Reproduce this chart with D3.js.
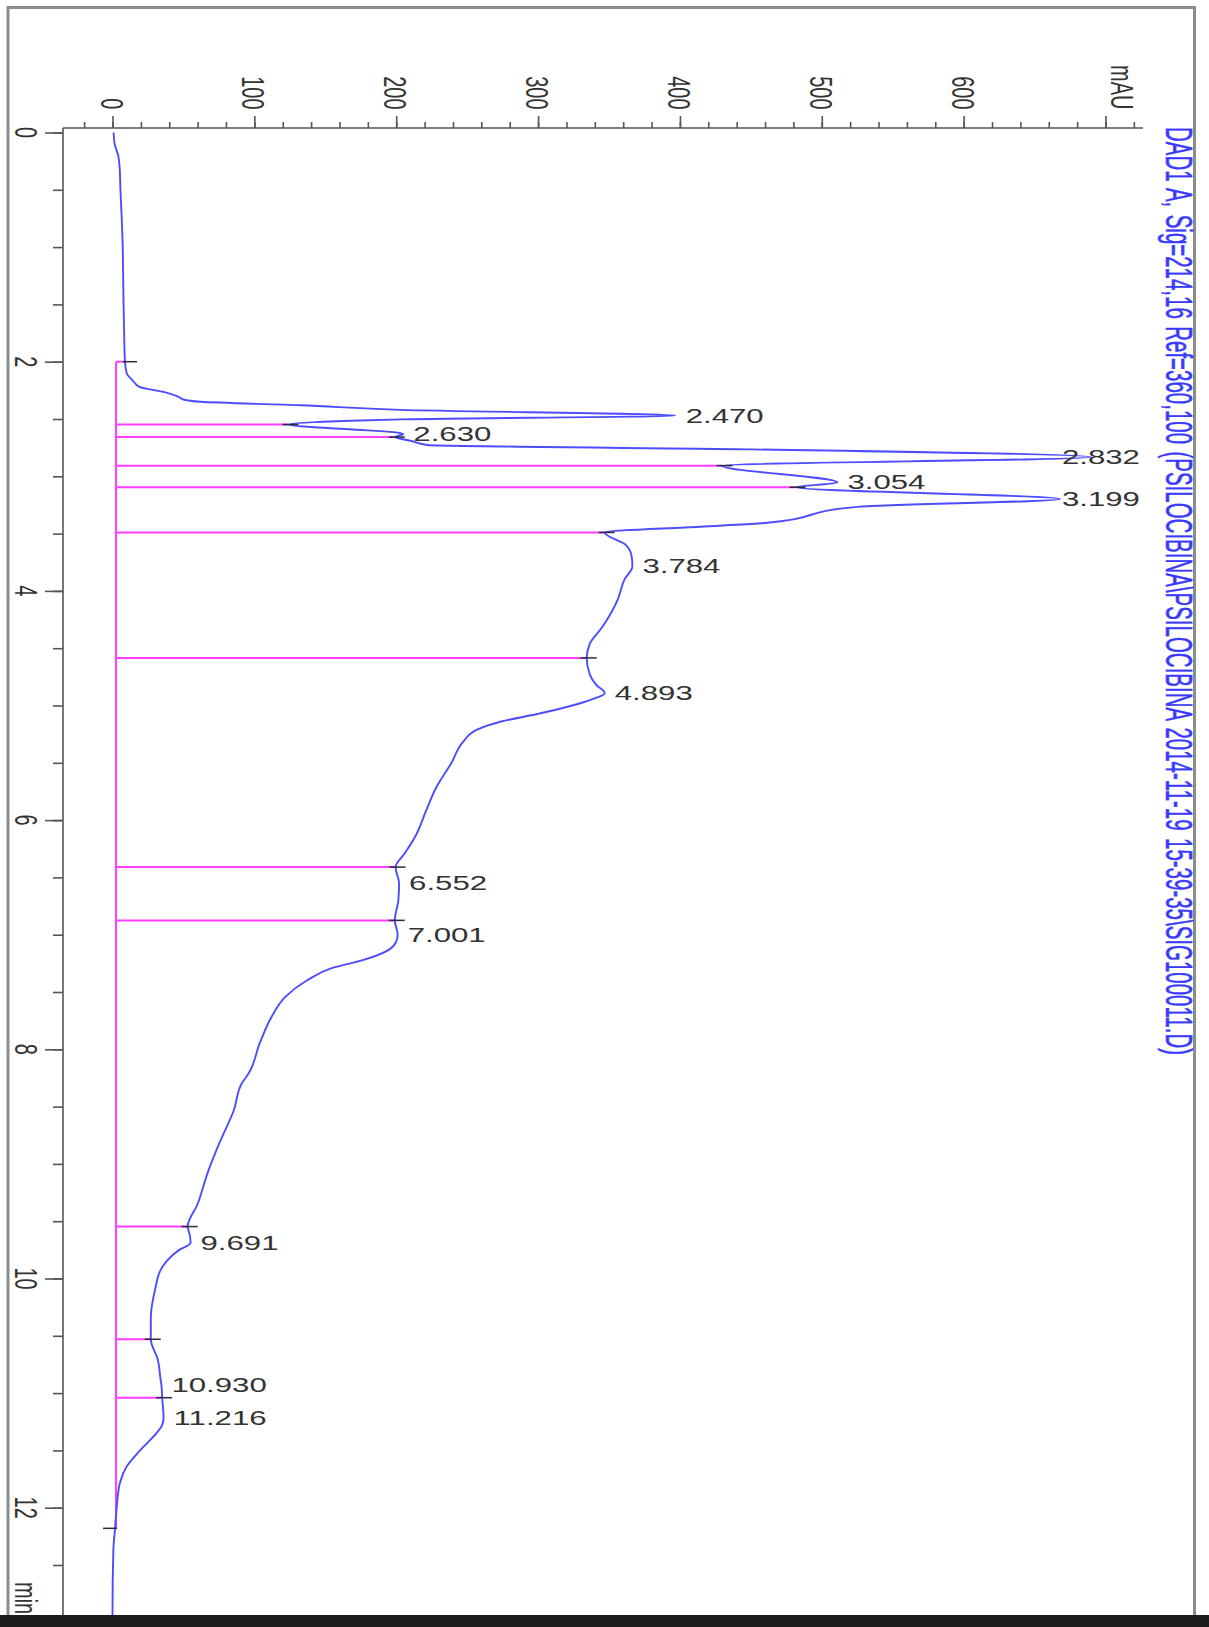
<!DOCTYPE html>
<html>
<head>
<meta charset="utf-8">
<script src="https://cdn.jsdelivr.net/npm/d3@7"></script>
<style>
  html, body { margin: 0; padding: 0; background: #ffffff; }
  svg { display: block; }
  text { font-family: "Liberation Sans", Arial, Helvetica, sans-serif; }
</style>
</head>
<body>
<svg id="chart" width="1209" height="1627"></svg>
<script>
// DAD1 A signal, retention time (min) vs absorbance (mAU)
const traceTime = [0.00, 0.10, 0.20, 0.30, 0.50, 0.75, 1.00, 1.25, 1.50, 1.75, 2.00, 2.10, 2.16, 2.22, 2.27, 2.31, 2.33, 2.35, 2.38, 2.42,
  2.470, 2.503, 2.515, 2.548, 2.59, 2.615, 2.630, 2.658, 2.69, 2.727, 2.765, 2.832, 2.907, 3.054, 3.096, 3.199, 3.265, 3.41, 3.44, 3.49,
  3.60, 3.70, 3.784, 3.90, 4.08, 4.32, 4.46, 4.585, 4.73, 4.82, 4.893, 4.95, 5.00, 5.07, 5.14, 5.21, 5.32, 5.50, 5.72, 5.92,
  6.13, 6.29, 6.41, 6.552, 6.70, 6.875, 7.001, 7.06, 7.13, 7.22, 7.29, 7.40, 7.54, 7.72, 7.94, 8.21, 8.30, 8.53, 8.80, 9.08,
  9.35, 9.547, 9.62, 9.691, 9.75, 9.85, 9.95, 10.07, 10.34, 10.53, 10.71, 10.89, 10.930, 11.04, 11.216, 11.28, 11.35, 11.50, 11.64, 11.78,
  11.99, 12.18, 12.37, 12.92, 13.00];
const traceMAU = [0.8, 1.5, 4.0, 5.0, 5.6, 6.5, 7.2, 7.5, 7.8, 8.2, 8.8, 10, 14, 19, 38, 47, 50, 62, 132, 203,
  397, 203, 168, 124, 167, 198, 205, 199, 210, 222, 450, 690, 430, 511, 481.5, 668, 527, 457, 414, 347,
  362, 366, 366.5, 361, 356, 345, 336.5, 334.3, 336.5, 341, 347, 337, 324, 301, 274, 257, 247, 239, 228, 221,
  214, 206, 199.5, 202, 201.5, 199, 201, 200, 195, 177, 155, 137, 122, 112, 104, 96, 91, 85.6, 76, 67,
  60, 53, 54.5, 55, 47, 38, 33, 30.5, 27, 27, 32, 34, 34.5, 35, 36, 35, 31, 19.4, 10, 5.3,
  3, 1.8, 0.6, 0, 0];

// Integration events: peak apex times and heights
const peakTimes   = [2.470, 2.630, 2.832, 3.054, 3.199, 3.784, 4.893, 6.552, 7.001, 9.691, 10.930, 11.216];
const peakHeights = [397, 205, 690, 511, 668, 366.5, 347, 202, 201, 55, 34.5, 36];
const peakLabels  = ["2.470", "2.630", "2.832", "3.054", "3.199", "3.784", "4.893", "6.552", "7.001", "9.691", "10.930", "11.216"];

// Peak boundaries (start, valleys, end) and the signal there
const dropTimes   = [2.000, 2.548, 2.658, 2.907, 3.096, 3.490, 4.585, 6.410, 6.875, 9.547, 10.530, 11.040, 12.180];
const dropHeights = [8.8, 124, 199, 430, 481.5, 347, 334.3, 199.5, 199, 53, 27, 35, 1.8];
const baselineMAU = 2.5;

// Axis ticks
const mauMajorTicks  = [0, 100, 200, 300, 400, 500, 600, 700];
const mauMajorLabels = ["0", "100", "200", "300", "400", "500", "600", "mAU"];
const mauMinorTicks  = d3.range(-20, 721, 20);
const timeMajorTicks = [0, 2, 4, 6, 8, 10, 12];
const timeMinorTicks = d3.range(0, 13.01, 0.5);

const title = "DAD1 A, Sig=214,16 Ref=360,100 (PSILOCIBINA\\PSILOCIBINA 2014-11-19 15-39-35\\SIG100011.D)";

// ---- layout ----
const W = 1209, H = 1627;
const axisTop = 128, axisLeft = 63, axisRight = 1143, plotBottom = 1615;
const SX = 1.56;          // horizontal stretch of the printout lettering
const FS = 20;

const svg = d3.select("#chart");

const x = d3.scaleLinear().domain([0, 700]).range([112.5, 1105.5]);
const y = d3.scaleLinear().domain([0, 12]).range([132.5, 1507.7]);

// page frame
const frame = svg.append("g").attr("fill", "none").attr("stroke", "#8c8c8c").attr("stroke-width", 3);
frame.append("path").attr("d", `M8,${H} L8,7.5 L1194.5,7.5 L1194.5,${H}`);

// ---- mAU axis (top, ticks pointing up) ----
svg.append("line").attr("x1", axisLeft).attr("x2", axisRight).attr("y1", axisTop).attr("y2", axisTop)
  .attr("stroke", "#555").attr("stroke-width", 1.6);

const gMinX = svg.append("g").attr("transform", `translate(0,${axisTop})`)
  .call(d3.axisTop(x).tickValues(mauMinorTicks).tickSize(6).tickSizeOuter(0).tickFormat(""));
const gMajX = svg.append("g").attr("transform", `translate(0,${axisTop})`)
  .call(d3.axisTop(x).tickValues(mauMajorTicks).tickSize(12).tickSizeOuter(0).tickFormat(""));
[gMinX, gMajX].forEach(g => {
  g.select(".domain").remove();
  g.selectAll(".tick line").attr("stroke", "#555").attr("stroke-width", 1.6);
});

svg.append("g").selectAll("text").data(mauMajorTicks).join("text")
  .attr("transform", (d, i) => `translate(${x(d) - (i === mauMajorTicks.length - 1 ? -5 : 12)},109.5) scale(${SX},1) rotate(90)`)
  .attr("text-anchor", "end")
  .attr("font-size", FS)
  .attr("fill", "#333")
  .text((d, i) => mauMajorLabels[i]);

// ---- time axis (left, ticks pointing left) ----
svg.append("line").attr("x1", axisLeft).attr("x2", axisLeft).attr("y1", axisTop).attr("y2", plotBottom)
  .attr("stroke", "#555").attr("stroke-width", 1.6);

const gMinY = svg.append("g").attr("transform", `translate(${axisLeft},0)`)
  .call(d3.axisLeft(y).tickValues(timeMinorTicks).tickSize(10).tickSizeOuter(0).tickFormat(""));
const gMajY = svg.append("g").attr("transform", `translate(${axisLeft},0)`)
  .call(d3.axisLeft(y).tickValues(timeMajorTicks).tickSize(18).tickSizeOuter(0).tickFormat(""));
[gMinY, gMajY].forEach(g => {
  g.select(".domain").remove();
  g.selectAll(".tick line").attr("stroke", "#555").attr("stroke-width", 1.6);
});

svg.append("g").selectAll("text").data(timeMajorTicks).join("text")
  .attr("transform", d => `translate(15,${y(d)}) scale(${SX},1) rotate(90)`)
  .attr("text-anchor", "middle")
  .attr("font-size", FS)
  .attr("fill", "#333")
  .text(d => d3.format("d")(d));

svg.append("text")
  .attr("transform", `translate(15,1582) scale(${SX},1) rotate(90)`)
  .attr("text-anchor", "start")
  .attr("font-size", FS)
  .attr("fill", "#333")
  .text("min");

// ---- signal title ----
svg.append("text")
  .attr("transform", `translate(1166,127) scale(${SX},1) rotate(90)`)
  .attr("font-size", 23.5)
  .attr("fill", "#3a3aff")
  .attr("stroke", "#3a3aff")
  .attr("stroke-width", 0.35)
  .attr("word-spacing", 2)
  .attr("textLength", 928)
  .attr("lengthAdjust", "spacingAndGlyphs")
  .text(title);

// ---- plot ----
svg.append("defs").append("clipPath").attr("id", "plotClip")
  .append("rect").attr("x", axisLeft).attr("y", axisTop).attr("width", 1194 - axisLeft).attr("height", plotBottom - axisTop);
const plot = svg.append("g").attr("clip-path", "url(#plotClip)");

// baseline and drop lines
const magenta = "#ff3cff";
plot.append("line")
  .attr("x1", x(baselineMAU)).attr("x2", x(baselineMAU))
  .attr("y1", y(dropTimes[0])).attr("y2", y(dropTimes[dropTimes.length - 1]))
  .attr("stroke", magenta).attr("stroke-width", 2);
plot.append("g").selectAll("line").data(dropTimes).join("line")
  .attr("x1", x(baselineMAU)).attr("x2", (d, i) => x(dropHeights[i]))
  .attr("y1", d => y(d)).attr("y2", d => y(d))
  .attr("stroke", magenta).attr("stroke-width", 2);

// trace
const pts = traceTime.map((t, i) => [traceMAU[i], t]);
plot.append("path")
  .datum(pts)
  .attr("fill", "none")
  .attr("stroke", "#4d4dff")
  .attr("stroke-width", 1.9)
  .attr("stroke-linejoin", "round")
  .attr("d", d3.line().x(d => x(d[0])).y(d => y(d[1])).curve(d3.curveMonotoneY));

// boundary markers
plot.append("g").selectAll("line").data(dropTimes).join("line")
  .attr("x1", (d, i) => x(dropHeights[i]) + (i === dropTimes.length - 1 ? -12 : (i === 0 ? -2 : -6)))
  .attr("x2", (d, i) => x(dropHeights[i]) + (i === dropTimes.length - 1 ? 2 : (i === 0 ? 12 : 10)))
  .attr("y1", d => y(d)).attr("y2", d => y(d))
  .attr("stroke", "#2a2a40").attr("stroke-width", 1.5);

// retention time labels
const lbl = svg.append("g").selectAll("text").data(peakTimes).join("text")
  .attr("font-size", FS)
  .attr("fill", "#333")
  .attr("dy", "0.35em")
  .text((d, i) => peakLabels[i]);
lbl.each(function (d, i) {
  const w = this.getComputedTextLength() * SX;
  let lx = x(peakHeights[i]) + 10;
  if (lx + w > 1140) lx = 1140 - w;
  d3.select(this).attr("transform", `translate(${lx},${y(d)}) scale(${SX},1)`);
});

// scanner edge strip
svg.append("rect").attr("x", 0).attr("y", plotBottom).attr("width", W).attr("height", H - plotBottom).attr("fill", "#1c1c1c");
</script>
</body>
</html>
